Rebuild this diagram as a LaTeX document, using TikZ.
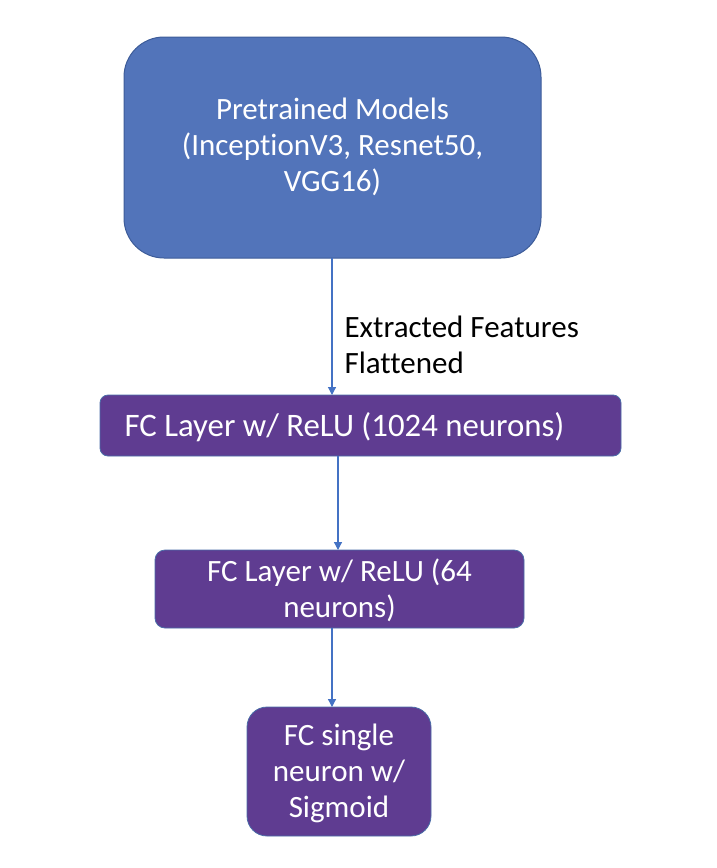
\documentclass[tikz,border=0pt]{standalone}
\usepackage{fontspec}
\setmainfont{Carlito}[Ligatures=NoCommon]
\usetikzlibrary{arrows.meta}
\definecolor{bluefill}{HTML}{5274BA}
\definecolor{blueedge}{HTML}{3D5C99}
\definecolor{purfill}{HTML}{5F3C91}
\definecolor{puredge}{HTML}{4A6EA8}
\definecolor{arrowc}{HTML}{4472C4}
\begin{document}
\begin{tikzpicture}[x=1pt,y=-1pt,
  boxtext/.style={text=white,font=\fontsize{31}{36}\selectfont,align=center},
  conn/.style={draw=arrowc,line width=1.2pt,-{Triangle[length=8pt,width=8pt]}}]
\useasboundingbox (0,0) rectangle (716,868);
\fill[white] (0,0) rectangle (716,868);
% boxes
\draw[fill=bluefill,draw=blueedge,line width=1pt,rounded corners=40pt] (124,37) rectangle (541,258);
\node[boxtext] (pre) at (332.5,147) {Pretrained Models\\(InceptionV3, Resnet50,\\VGG16)};
\coordinate (preB) at (332,258);
\draw[fill=purfill,draw=puredge,line width=0.8pt,rounded corners=8pt] (100,395) rectangle (621,456);
\node[boxtext,font=\fontsize{32.8}{36}\selectfont] (fc1) at (344.5,427) {FC Layer w/ ReLU (1024 neurons)};
\coordinate (fc1T) at (332,395);
\coordinate (fc1B) at (338,456);
\draw[fill=purfill,draw=puredge,line width=0.8pt,rounded corners=10pt] (155,550) rectangle (524,628);
\node[boxtext] (fc2) at (339.5,590) {FC Layer w/ ReLU (64\\neurons)};
\coordinate (fc2T) at (338,550);
\coordinate (fc2B) at (332,628);
\draw[fill=purfill,draw=puredge,line width=0.8pt,rounded corners=20pt] (247,707) rectangle (431,836);
\node[boxtext] (fc3) at (339,773) {FC single\\neuron w/\\Sigmoid};
\coordinate (fc3T) at (332,707);
% connectors
\draw[conn] (preB) -- (fc1T);
\draw[conn] (fc1B) -- (fc2T);
\draw[conn] (fc2B) -- (fc3T);
\node[anchor=west,align=left,font=\fontsize{31}{36}\selectfont] (lab) at (341,345) {Extracted Features\\Flattened};
\end{tikzpicture}
\end{document}
